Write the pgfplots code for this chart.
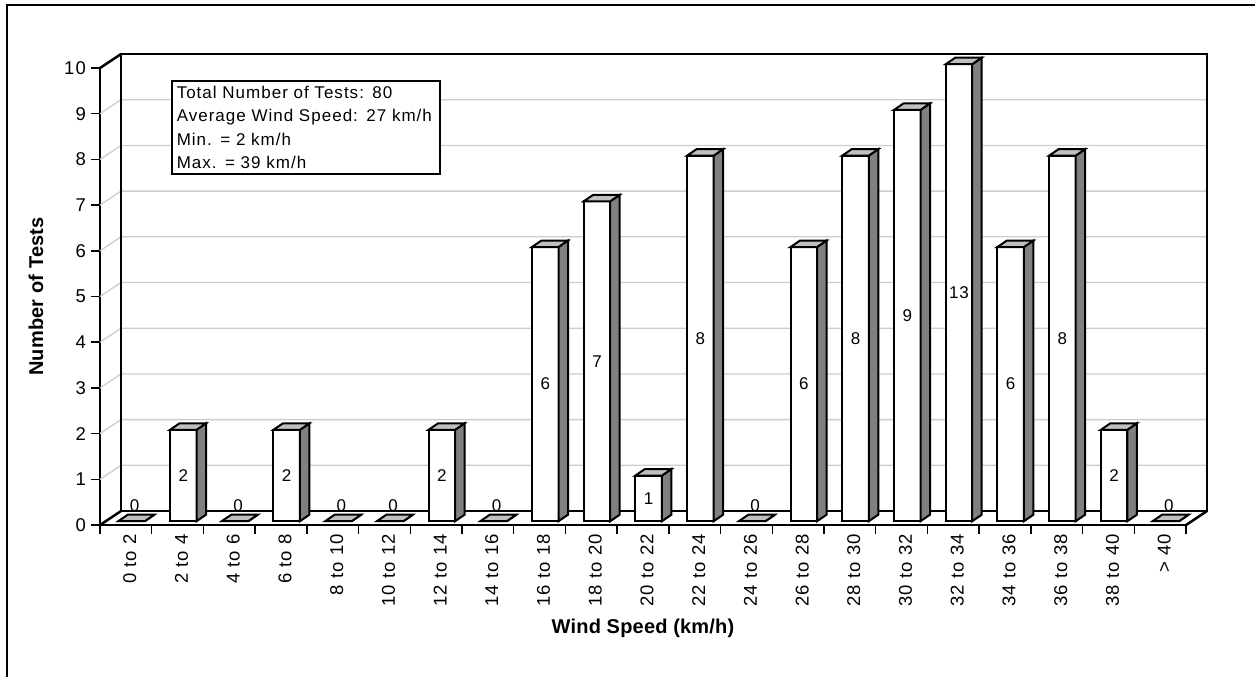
\documentclass[border=0pt]{standalone}
\usepackage{fontspec}
\setmainfont{Liberation Sans}[LetterSpace=6]
\newfontfamily\titlefont{Liberation Sans}[LetterSpace=1]
\usepackage{pgfplots}
\usepackage{pgfplotstable}
\pgfplotsset{compat=1.18}

\definecolor{topgray}{RGB}{192,192,192}
\definecolor{sidegray}{RGB}{128,128,128}
\definecolor{gridgray}{RGB}{205,205,205}

\newcommand\tickfont{\fontsize{18.5bp}{21bp}\selectfont}
\newcommand\lblfont{\fontsize{17bp}{23.6bp}\selectfont}
\newcommand\axtitlefont{\titlefont\bfseries\fontsize{20bp}{24bp}\selectfont}

% number of tests per 2 km/h wind speed class
\pgfplotstableread{
idx n
0   0
1   2
2   0
3   2
4   0
5   0
6   2
7   0
8   6
9   7
10  1
11  8
12  0
13  6
14  8
15  9
16  13
17  6
18  8
19  2
20  0
}\windtable

% oblique projection: depth of the floor, front plane of the bars, bar size
\def\depthx{21bp}\def\depthy{14bp}
\def\frontx{5.7bp}\def\fronty{3.8bp}
\def\barhalf{13.25bp}
\def\sidex{9.5bp}\def\sidey{6.5bp}
\def\yunit{45.7bp}

% top face and right side face of a bar; origin at the top front centre
\pgfdeclareplotmark{bartopside}{%
  \pgfscope
  \pgfmathsetlengthmacro\barh{\barval*\yunit}%
  \pgfsetlinewidth{2bp}\pgfsetstrokecolor{black}\pgfsetmiterjoin
  \pgfsetfillcolor{sidegray}%
  \pgfpathmoveto{\pgfpoint{\barhalf}{0bp}}%
  \pgfpathlineto{\pgfpoint{\barhalf+\sidex}{\sidey}}%
  \pgfpathlineto{\pgfpoint{\barhalf+\sidex}{\sidey-\barh}}%
  \pgfpathlineto{\pgfpoint{\barhalf}{-\barh}}%
  \pgfpathclose
  \pgfusepath{fill,stroke}%
  \pgfsetfillcolor{topgray}%
  \pgfpathmoveto{\pgfpoint{-\barhalf}{0bp}}%
  \pgfpathlineto{\pgfpoint{\barhalf}{0bp}}%
  \pgfpathlineto{\pgfpoint{\barhalf+\sidex}{\sidey}}%
  \pgfpathlineto{\pgfpoint{-\barhalf+\sidex}{\sidey}}%
  \pgfpathclose
  \pgfusepath{fill,stroke}%
  \endpgfscope
}

\begin{document}
\begin{tikzpicture}
\path[use as bounding box] (0,0) rectangle (1255bp,-677bp);
\draw[line width=2bp] (7bp,-700bp) -- (7bp,-5bp) -- (1290bp,-5bp);
\begin{axis}[
  at={(100bp,-525bp)}, anchor=south west,
  scale only axis, width=1086bp, height=457bp,
  xmin=-0.5, xmax=20.5, ymin=0, ymax=10,
  clip=false,
  separate axis lines,
  axis x line*=bottom, axis y line*=left,
  axis line style={-, line width=2.5bp, black},
  every outer x axis line/.append style={-},
  every outer y axis line/.append style={-},
  /pgf/number format/assume math mode=true,
  tick label style={font=\tickfont},
  tick align=outside,
  major tick length=9bp,
  ytick={0,...,10},
  ytick style={black, line width=1.5bp},
  yticklabel style={inner sep=0pt, xshift=-5bp},
  xtick={0,...,20},
  xtick style={draw=none},
  xticklabels={0 to 2, 2 to 4, 4 to 6, 6 to 8, 8 to 10, 10 to 12, 12 to 14,
    14 to 16, 16 to 18, 18 to 20, 20 to 22, 22 to 24, 24 to 26, 26 to 28,
    28 to 30, 30 to 32, 32 to 34, 34 to 36, 36 to 38, 38 to 40, > 40},
  xticklabel style={rotate=90, anchor=east, inner sep=0pt, yshift=-4bp},
  extra x ticks={-0.5,0.5,...,20.5},
  extra x tick labels={},
  extra x tick style={xtick style={draw=black, line width=1.5bp}},
  xlabel={Wind Speed (km/h)},
  xlabel style={at={(rel axis cs:0.5,-0.2254)}, anchor=center, font=\axtitlefont},
  ylabel={Number of Tests},
  ylabel style={at={(rel axis cs:-0.0589,0.5)}, anchor=center, font=\axtitlefont},
]
% grid lines on the side wall and back wall
\pgfplotsinvokeforeach{1,...,9}{
  \draw[gridgray, line width=1.3bp] (axis cs:-0.5,#1) -- ++(\depthx,\depthy)
    -- ([shift={(\depthx,\depthy)}]axis cs:20.5,#1);
}
% back wall and floor edges
\draw[line width=2.5bp] ([shift={(\depthx,\depthy)}]axis cs:-0.5,0)
  rectangle ([shift={(\depthx,\depthy)}]axis cs:20.5,10);
\draw[line width=2.5bp] (axis cs:-0.5,10) -- ++(\depthx,\depthy);
\draw[line width=2.5bp] (axis cs:-0.5,0) -- ++(\depthx,\depthy);
\draw[line width=2.5bp] (axis cs:20.5,0) -- ++(\depthx,\depthy);

% front faces of the bars (values above 10 are cut at the top of the wall)
\addplot[ybar, bar width=26.5bp, bar shift=0pt, fill=white, draw=black,
  line width=2bp, xshift=\frontx, yshift=\fronty]
  table[x=idx, y expr={min(\thisrow{n},10)}] {\windtable};
% top and side faces
\addplot[only marks, mark=bartopside, xshift=\frontx, yshift=\fronty,
  visualization depends on={min(\thisrow{n},10) \as \barval}]
  table[x=idx, y expr={min(\thisrow{n},10)}] {\windtable};
% value labels
\addplot[draw=none, mark=none, xshift=\frontx, yshift=\fronty,
  point meta=explicit,
  visualization depends on={ifthenelse(\thisrow{n}==0,1,0) \as \iszero},
  nodes near coords,
  nodes near coords style={anchor=center, inner sep=0pt, font=\lblfont,
    xshift=3bp*\iszero, yshift=16bp*\iszero}]
  table[x=idx, y expr={min(\thisrow{n},10)/2}, meta=n] {\windtable};

\node[draw, line width=1.5bp, fill=white, anchor=north west,
  inner xsep=5bp, inner ysep=5bp, text width=258bp, align=left, font=\lblfont]
  at (rel axis cs:0.06538,0.97374)
  {Total Number of Tests: 80\\Average Wind Speed: 27 km/h\\Min. = 2 km/h\\Max. = 39 km/h};
\end{axis}
\end{tikzpicture}
\end{document}
